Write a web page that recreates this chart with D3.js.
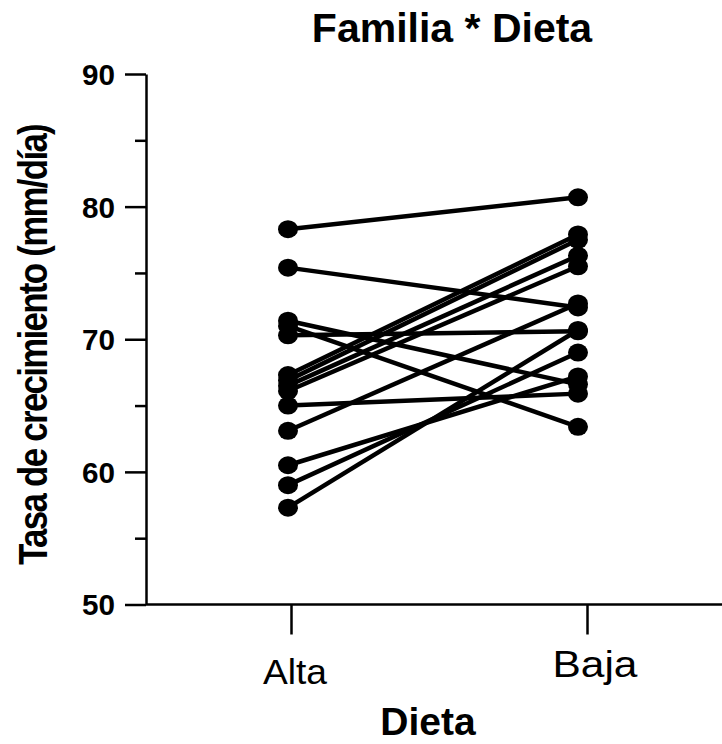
<!DOCTYPE html>
<html>
<head>
<meta charset="utf-8">
<script src="https://cdn.jsdelivr.net/npm/d3@7"></script>
<style>
  body { margin: 0; background: #fff; }
  svg { display: block; font-family: "Liberation Sans", Arial, sans-serif; }
</style>
</head>
<body>
<div id="wrapper"></div>
<script>
// Datos
const dietas = ["Alta", "Baja"];
const alta = [78.3, 75.4, 71.4, 71.0, 70.3, 67.3, 66.9, 66.5, 66.1, 65.0, 63.1, 60.5, 59.0, 57.3];
const baja = [80.7, 72.4, 66.6, 63.4, 70.6, 77.9, 77.5, 76.3, 75.5, 65.9, 72.7, 67.2, 69.0, 70.7];
const yTicks = [50, 60, 70, 80, 90];
const yMinorTicks = [55, 65, 75, 85];

const familias = alta.map((a, i) => ({ alta: a, baja: baja[i] }));

// Dimensiones
const dimensions = {
  width: 722,
  height: 744,
  margins: { top: 74, right: 0, bottom: 139.5, left: 146 },
};
dimensions.boundedWidth = dimensions.width - dimensions.margins.left - dimensions.margins.right;
dimensions.boundedHeight = dimensions.height - dimensions.margins.top - dimensions.margins.bottom;

const wrapper = d3.select("#wrapper")
  .append("svg")
  .attr("width", dimensions.width)
  .attr("height", dimensions.height);

const bounds = wrapper.append("g")
  .attr("transform", `translate(${dimensions.margins.left},${dimensions.margins.top})`);

// Escalas
const xScale = d3.scalePoint()
  .domain(dietas)
  .range([145, 441]);

const yScale = d3.scaleLinear()
  .domain([50, 90])
  .range([dimensions.boundedHeight, 0]);

// los puntos quedan un poco a la izquierda de las marcas
const dotShift = { Alta: -3, Baja: -9 };
const xDot = (k) => xScale(k) + dotShift[k];

// Lineas
const lineGen = d3.line().x((d) => d[0]).y((d) => d[1]);

bounds.append("g")
  .selectAll("path")
  .data(familias)
  .join("path")
  .attr("d", (d) => lineGen([[xDot("Alta"), yScale(d.alta)], [xDot("Baja"), yScale(d.baja)]]))
  .attr("fill", "none")
  .attr("stroke", "#000")
  .attr("stroke-width", 4.5);

// Puntos
const dotsGroup = bounds.append("g");
dietas.forEach((k) => {
  const vals = k === "Alta" ? alta : baja;
  dotsGroup.selectAll(null)
    .data(vals)
    .join("ellipse")
    .attr("cx", xDot(k))
    .attr("cy", (d) => yScale(d))
    .attr("rx", 10)
    .attr("ry", 9)
    .attr("fill", "#000");
});

// Eje Y
const yAxis = bounds.append("g")
  .call(d3.axisLeft(yScale).tickValues(yTicks).tickSize(21).tickSizeOuter(0).tickPadding(10).tickFormat(d3.format("d")));
yAxis.select(".domain").attr("stroke-width", 2.5);
yAxis.selectAll(".tick line").attr("stroke-width", 2.5);
yAxis.selectAll(".tick text")
  .attr("fill", "#000")
  .attr("dy", "0.36em")
  .attr("textLength", 33)
  .attr("lengthAdjust", "spacingAndGlyphs")
  .style("font-size", "29px")
  .style("font-weight", "bold")
  .style("font-family", "'Liberation Sans', Arial, sans-serif");

const yMinor = bounds.append("g")
  .call(d3.axisLeft(yScale).tickValues(yMinorTicks).tickSize(11).tickFormat(""));
yMinor.select(".domain").remove();
yMinor.selectAll(".tick line").attr("stroke-width", 2.5);

// Eje X
const xAxis = bounds.append("g")
  .attr("transform", `translate(0,${dimensions.boundedHeight})`)
  .call(d3.axisBottom(xScale).tickSize(30).tickSizeOuter(0).tickFormat(""));
xAxis.select(".domain")
  .attr("d", `M0,0H${dimensions.boundedWidth}`)
  .attr("stroke-width", 2.5);
xAxis.selectAll(".tick line").attr("stroke-width", 2.5);

const xLabelStyle = {
  Alta: { dx: 4, y: 79, size: 35, len: 64 },
  Baja: { dx: 8, y: 72, size: 36, len: 85 },
};
xAxis.selectAll(".xlab")
  .data(dietas)
  .join("text")
  .attr("class", "xlab")
  .attr("x", (d) => xScale(d) + xLabelStyle[d].dx)
  .attr("y", (d) => xLabelStyle[d].y)
  .attr("text-anchor", "middle")
  .attr("textLength", (d) => xLabelStyle[d].len)
  .attr("lengthAdjust", "spacingAndGlyphs")
  .style("font-size", (d) => xLabelStyle[d].size + "px")
  .attr("fill", "#000")
  .text((d) => d);

// Titulos
wrapper.append("text")
  .attr("x", 452)
  .attr("y", 42)
  .attr("text-anchor", "middle")
  .style("font-size", "41px")
  .style("font-weight", "bold")
  .text("Familia * Dieta");

wrapper.append("text")
  .attr("x", 428)
  .attr("y", 735)
  .attr("text-anchor", "middle")
  .style("font-size", "39px")
  .style("font-weight", "bold")
  .text("Dieta");

wrapper.append("text")
  .attr("transform", "translate(47,345) rotate(-90)")
  .attr("text-anchor", "middle")
  .attr("textLength", 440)
  .attr("lengthAdjust", "spacingAndGlyphs")
  .style("font-size", "41px")
  .style("font-weight", "bold")
  .style("letter-spacing", "-2px")
  .text("Tasa de crecimiento (mm/día)");
</script>
</body>
</html>
